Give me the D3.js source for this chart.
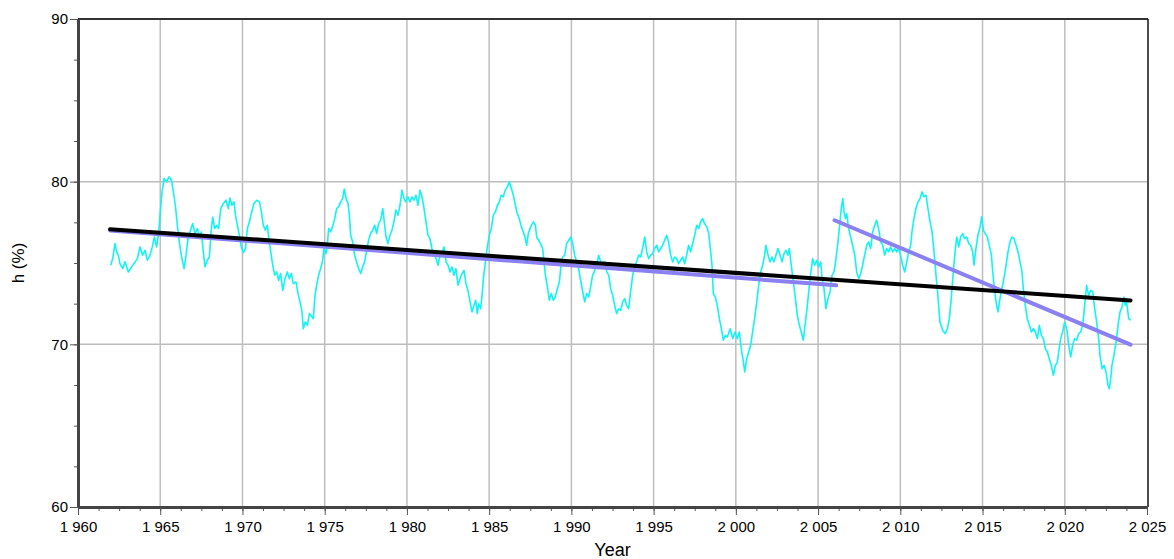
<!DOCTYPE html>
<html>
<head>
<meta charset="utf-8">
<script src="https://cdn.jsdelivr.net/npm/d3@7"></script>
<style>
  body { margin: 0; background: #fff; }
  svg { display: block; font-family: "Liberation Sans", Arial, sans-serif; }
</style>
</head>
<body>
<svg id="chart" width="1174" height="559"></svg>
<script>
// observed relative humidity (running mean), [year, h %]
const humidity = [
  [1961.99,74.86],[1962.11,75.27],[1962.25,76.19],[1962.35,75.68],[1962.45,75.48],[1962.55,74.96],
  [1962.72,74.65],[1962.86,75.07],[1963.06,74.45],[1963.26,74.76],[1963.47,75.07],[1963.61,75.27],
  [1963.77,75.99],[1963.93,75.48],[1964.07,75.78],[1964.22,75.17],[1964.38,75.48],[1964.52,75.99],
  [1964.64,76.60],[1964.78,75.99],[1964.91,76.91],[1964.99,77.94],[1965.11,79.37],[1965.23,80.19],
  [1965.39,79.99],[1965.53,80.30],[1965.68,80.09],[1965.80,79.37],[1965.92,78.55],[1966.04,77.32],
  [1966.16,76.30],[1966.28,75.48],[1966.45,74.65],[1966.57,75.48],[1966.69,76.50],[1966.81,76.91],
  [1966.97,77.42],[1967.11,76.81],[1967.26,77.12],[1967.38,76.60],[1967.50,76.91],[1967.62,75.68],
  [1967.72,74.76],[1967.86,75.17],[1967.99,75.37],[1968.09,76.91],[1968.19,77.83],[1968.31,77.12],
  [1968.43,77.32],[1968.55,77.12],[1968.68,78.35],[1968.84,78.66],[1969.00,78.86],[1969.14,78.35],
  [1969.24,79.00],[1969.36,78.55],[1969.49,78.76],[1969.57,77.94],[1969.69,77.32],[1969.81,76.71],
  [1969.93,75.99],[1970.05,75.64],[1970.18,75.89],[1970.30,77.12],[1970.42,77.53],[1970.56,78.14],
  [1970.70,78.66],[1970.86,78.86],[1971.03,78.76],[1971.15,78.14],[1971.27,77.32],[1971.39,77.01],
  [1971.51,77.32],[1971.59,76.60],[1971.72,75.68],[1971.84,74.86],[1971.96,74.25],[1972.08,74.45],
  [1972.20,73.94],[1972.32,74.35],[1972.45,73.32],[1972.59,74.04],[1972.73,74.45],[1972.85,74.04],
  [1972.97,74.35],[1973.09,73.73],[1973.26,73.83],[1973.38,73.12],[1973.50,72.61],[1973.62,71.99],
  [1973.70,70.96],[1973.82,71.37],[1973.95,71.17],[1974.07,71.89],[1974.23,71.68],[1974.31,71.58],
  [1974.41,73.01],[1974.51,73.63],[1974.63,74.25],[1974.75,74.65],[1974.88,75.17],[1974.96,75.89],
  [1975.08,75.58],[1975.16,76.09],[1975.24,77.12],[1975.36,76.91],[1975.48,77.22],[1975.61,77.73],
  [1975.73,78.35],[1975.85,78.45],[1975.97,78.76],[1976.09,78.96],[1976.19,79.54],[1976.30,78.96],
  [1976.42,78.66],[1976.50,77.94],[1976.58,76.71],[1976.70,76.30],[1976.82,75.48],[1976.94,75.07],
  [1977.07,74.65],[1977.19,74.35],[1977.31,74.76],[1977.43,75.07],[1977.55,75.78],[1977.67,76.40],
  [1977.79,76.81],[1977.92,77.01],[1978.04,77.32],[1978.16,76.81],[1978.28,77.42],[1978.40,77.63],
  [1978.53,78.35],[1978.61,77.63],[1978.73,76.60],[1978.85,76.19],[1978.97,76.71],[1979.09,77.01],
  [1979.21,77.53],[1979.33,78.25],[1979.46,77.94],[1979.58,78.55],[1979.70,79.48],[1979.82,78.96],
  [1979.94,78.76],[1980.06,79.07],[1980.19,78.76],[1980.31,79.07],[1980.43,78.86],[1980.55,79.17],
  [1980.67,78.55],[1980.80,79.48],[1980.92,79.07],[1981.04,78.35],[1981.16,77.53],[1981.28,76.71],
  [1981.40,76.50],[1981.52,75.89],[1981.65,75.58],[1981.77,75.27],[1981.89,74.86],[1982.01,75.48],
  [1982.13,75.58],[1982.25,75.99],[1982.38,75.07],[1982.50,74.86],[1982.62,74.45],[1982.74,74.76],
  [1982.86,74.25],[1982.98,74.65],[1983.11,73.63],[1983.23,74.04],[1983.35,74.35],[1983.47,74.55],
  [1983.59,73.73],[1983.71,73.32],[1983.84,72.61],[1983.96,71.99],[1984.08,72.40],[1984.18,72.71],
  [1984.28,71.89],[1984.36,72.50],[1984.48,72.19],[1984.57,73.01],[1984.65,74.04],[1984.77,75.07],
  [1984.89,75.99],[1985.01,76.71],[1985.13,77.12],[1985.25,77.94],[1985.38,78.14],[1985.50,78.55],
  [1985.62,78.76],[1985.74,79.17],[1985.86,79.07],[1985.98,79.48],[1986.11,79.68],[1986.23,79.99],
  [1986.35,79.58],[1986.47,79.17],[1986.59,78.55],[1986.71,78.04],[1986.83,77.73],[1986.96,77.22],
  [1987.18,76.60],[1987.28,76.09],[1987.38,76.81],[1987.52,77.22],[1987.69,77.53],[1987.81,77.32],
  [1987.89,76.60],[1988.01,76.40],[1988.13,76.19],[1988.25,75.89],[1988.34,75.07],[1988.42,74.25],
  [1988.54,73.53],[1988.66,72.71],[1988.78,73.12],[1988.90,72.71],[1989.02,72.91],[1989.15,73.42],
  [1989.27,73.83],[1989.35,74.65],[1989.47,75.37],[1989.59,75.48],[1989.71,76.19],[1989.84,76.40],
  [1989.96,76.60],[1990.08,76.19],[1990.20,75.48],[1990.32,75.07],[1990.44,74.65],[1990.56,73.94],
  [1990.69,73.22],[1990.81,72.61],[1990.93,73.12],[1991.05,72.91],[1991.17,73.53],[1991.29,74.25],
  [1991.42,74.55],[1991.54,74.86],[1991.66,75.48],[1991.78,75.07],[1991.90,74.96],[1992.02,75.07],
  [1992.15,74.45],[1992.27,74.25],[1992.39,73.42],[1992.51,73.01],[1992.63,72.40],[1992.75,71.89],
  [1992.87,72.19],[1993.00,72.09],[1993.12,72.61],[1993.24,72.81],[1993.36,72.40],[1993.48,72.19],
  [1993.60,73.22],[1993.73,74.25],[1993.85,74.86],[1993.97,75.07],[1994.09,75.48],[1994.21,75.37],
  [1994.33,75.89],[1994.46,76.60],[1994.58,75.68],[1994.70,75.27],[1994.82,75.48],[1994.94,75.58],
  [1995.06,75.89],[1995.19,76.09],[1995.31,75.68],[1995.43,75.89],[1995.55,76.09],[1995.67,76.40],
  [1995.79,76.71],[1995.91,76.30],[1996.04,75.48],[1996.16,75.07],[1996.28,75.37],[1996.40,75.27],
  [1996.52,74.96],[1996.64,75.17],[1996.77,75.37],[1996.89,74.96],[1997.01,75.48],[1997.13,76.09],
  [1997.25,75.68],[1997.37,76.19],[1997.50,76.71],[1997.62,77.32],[1997.74,77.12],[1997.86,77.53],
  [1997.98,77.73],[1998.10,77.42],[1998.23,77.22],[1998.35,76.81],[1998.47,75.68],[1998.55,74.86],
  [1998.63,73.12],[1998.75,72.91],[1998.87,72.40],[1999.00,71.58],[1999.12,70.96],[1999.24,70.25],
  [1999.36,70.55],[1999.48,70.45],[1999.65,70.96],[1999.81,70.35],[1999.95,70.76],[2000.09,70.35],
  [2000.21,70.76],[2000.33,69.73],[2000.46,68.91],[2000.54,68.30],[2000.66,69.12],[2000.78,69.53],
  [2000.90,69.94],[2001.02,70.76],[2001.14,71.58],[2001.27,72.61],[2001.39,73.63],[2001.51,74.45],
  [2001.63,74.86],[2001.75,75.48],[2001.83,76.09],[2001.96,75.48],[2002.08,75.07],[2002.20,75.37],
  [2002.32,75.07],[2002.44,75.48],[2002.56,75.89],[2002.69,75.48],[2002.81,75.07],[2002.93,75.58],
  [2003.05,75.78],[2003.17,75.48],[2003.25,75.89],[2003.37,74.86],[2003.50,73.83],[2003.62,72.81],
  [2003.74,71.78],[2003.86,71.17],[2003.98,70.76],[2004.10,70.25],[2004.23,71.37],[2004.35,72.40],
  [2004.47,73.63],[2004.59,74.65],[2004.67,75.27],[2004.79,74.86],[2004.92,75.17],[2005.04,74.76],
  [2005.16,75.07],[2005.24,74.04],[2005.36,73.42],[2005.48,72.19],[2005.60,72.81],[2005.73,73.22],
  [2005.85,74.25],[2005.97,74.45],[2006.09,75.27],[2006.21,76.30],[2006.33,77.53],[2006.41,78.35],
  [2006.50,78.96],[2006.58,78.14],[2006.66,77.73],[2006.74,78.04],[2006.86,77.12],[2006.98,76.60],
  [2007.10,76.09],[2007.23,75.48],[2007.35,74.45],[2007.47,74.04],[2007.59,74.35],[2007.71,74.86],
  [2007.83,75.48],[2007.96,76.09],[2008.08,76.30],[2008.20,75.89],[2008.32,76.91],[2008.44,77.32],
  [2008.56,77.63],[2008.68,77.12],[2008.81,76.30],[2008.93,76.09],[2009.05,75.48],[2009.17,75.89],
  [2009.29,75.68],[2009.41,75.99],[2009.54,75.68],[2009.66,75.89],[2009.78,75.68],[2009.90,75.89],
  [2010.02,75.48],[2010.14,74.86],[2010.27,74.45],[2010.39,75.07],[2010.51,75.68],[2010.63,76.09],
  [2010.71,76.91],[2010.83,77.73],[2010.95,78.35],[2011.08,78.76],[2011.20,78.96],[2011.32,79.37],
  [2011.44,79.07],[2011.56,79.17],[2011.68,78.35],[2011.81,77.53],[2011.93,76.91],[2012.05,75.68],
  [2012.17,74.25],[2012.25,73.42],[2012.33,72.40],[2012.41,71.37],[2012.58,70.86],[2012.72,70.66],
  [2012.86,70.96],[2012.98,71.58],[2013.10,72.81],[2013.22,74.45],[2013.35,75.89],[2013.43,76.60],
  [2013.55,75.99],[2013.67,76.60],[2013.79,76.81],[2013.91,76.50],[2014.04,76.60],[2014.16,76.19],
  [2014.28,76.09],[2014.40,75.68],[2014.48,74.86],[2014.60,75.89],[2014.72,76.71],[2014.85,77.22],
  [2014.95,77.84],[2015.05,77.01],[2015.17,76.81],[2015.29,76.60],[2015.41,76.09],[2015.54,75.48],
  [2015.62,74.45],[2015.70,73.63],[2015.82,72.61],[2015.94,71.99],[2016.06,72.81],[2016.18,73.42],
  [2016.30,74.04],[2016.43,74.86],[2016.55,75.68],[2016.67,76.30],[2016.79,76.60],[2016.91,76.50],
  [2017.04,76.09],[2017.16,75.68],[2017.28,75.07],[2017.40,74.45],[2017.48,73.42],[2017.60,72.40],
  [2017.72,71.58],[2017.85,71.17],[2017.97,70.76],[2018.09,70.96],[2018.21,70.76],[2018.33,70.35],
  [2018.45,71.17],[2018.58,70.55],[2018.70,70.35],[2018.82,69.73],[2018.94,69.53],[2019.06,69.12],
  [2019.18,68.71],[2019.31,68.09],[2019.43,68.71],[2019.55,68.91],[2019.63,69.53],[2019.75,70.35],
  [2019.87,70.76],[2019.99,71.37],[2020.12,70.96],[2020.24,69.94],[2020.36,69.22],[2020.48,69.94],
  [2020.60,70.35],[2020.72,70.25],[2020.85,70.66],[2020.97,70.76],[2021.09,71.17],[2021.21,72.40],
  [2021.33,73.63],[2021.45,73.01],[2021.58,73.32],[2021.70,73.22],[2021.82,72.19],[2021.94,71.37],
  [2022.06,70.35],[2022.14,69.32],[2022.27,68.50],[2022.39,68.71],[2022.51,68.30],[2022.63,67.48],
  [2022.71,67.27],[2022.79,67.89],[2022.87,68.71],[2022.99,69.32],[2023.12,70.14],[2023.24,71.17],
  [2023.36,71.99],[2023.48,72.30],[2023.60,72.91],[2023.68,72.40],[2023.76,72.61],[2023.89,71.58],
  [2024.01,71.48]
];

// linear trends, [year, h %]
const trendAll = [[1961.95, 77.07], [2024.0, 72.70]];
const trendEarly = [[1961.95, 77.00], [2006.1, 73.63]];
const trendLate = [[2006.0, 77.63], [2024.0, 69.98]];

const xMajor = [1960, 1965, 1970, 1975, 1980, 1985, 1990, 1995, 2000, 2005, 2010, 2015, 2020, 2025];
const yMajor = [60, 70, 80, 90];

const width = 1174, height = 559;
const margin = { top: 19, right: 26, bottom: 52, left: 78 };
const innerW = 1147 - margin.left;
const innerH = 507 - margin.top;

const svg = d3.select("#chart");
const g = svg.append("g").attr("transform", "translate(" + margin.left + "," + margin.top + ")");

const x = d3.scaleLinear().domain([1960, 2025]).range([0, innerW]);
const y = d3.scaleLinear().domain([60, 90]).range([innerH, 0]);

const fmt = d3.formatLocale({ decimal: ".", thousands: " ", grouping: [3], currency: ["", ""] }).format(",");

// grid
g.append("g").selectAll("line").data(xMajor.slice(1, -1)).enter().append("line")
  .attr("x1", d => x(d)).attr("x2", d => x(d))
  .attr("y1", 0).attr("y2", innerH)
  .attr("stroke", "#bdbdbd").attr("stroke-width", 1.5);
g.append("g").selectAll("line").data(yMajor.slice(1, -1)).enter().append("line")
  .attr("x1", 0).attr("x2", innerW)
  .attr("y1", d => y(d)).attr("y2", d => y(d))
  .attr("stroke", "#bdbdbd").attr("stroke-width", 1.5);

// frame top / right
g.append("line").attr("x1", 0).attr("x2", innerW + 1).attr("y1", 0).attr("y2", 0)
  .attr("stroke", "#333").attr("stroke-width", 2);
g.append("line").attr("x1", innerW + 1).attr("x2", innerW + 1).attr("y1", 0).attr("y2", innerH)
  .attr("stroke", "#111").attr("stroke-width", 1.5);

// data line
const line = d3.line().x(d => x(d[0])).y(d => y(d[1]));

g.append("path").datum(humidity)
  .attr("fill", "none").attr("stroke", "#12f4f4").attr("stroke-width", 1.6)
  .attr("stroke-linejoin", "round")
  .attr("d", line);

[trendEarly, trendLate].forEach(t => {
  g.append("path").datum(t)
    .attr("fill", "none").attr("stroke", "#8a80f2").attr("stroke-width", 4)
    .attr("stroke-linecap", "round").attr("d", line);
});
g.append("path").datum(trendAll)
  .attr("fill", "none").attr("stroke", "#000").attr("stroke-width", 4)
  .attr("stroke-linecap", "round").attr("d", line);

// minor ticks
const xMinor = d3.range(1960, 2025.01, 1.25);
const yMinor = d3.range(60, 90.01, 2.5);
g.append("g").attr("transform", "translate(0," + innerH + ")")
  .call(d3.axisBottom(x).tickValues(xMinor).tickSize(4).tickFormat(""))
  .call(a => a.select(".domain").remove())
  .selectAll("line").attr("stroke", "#555");
g.append("g")
  .call(d3.axisLeft(y).tickValues(yMinor).tickSize(4).tickFormat(""))
  .call(a => a.select(".domain").remove())
  .selectAll("line").attr("stroke", "#555");

// major axes
const xAxis = g.append("g").attr("transform", "translate(0," + innerH + ")")
  .call(d3.axisBottom(x).tickValues(xMajor).tickSize(8).tickPadding(6).tickFormat(fmt).tickSizeOuter(0));
const yAxis = g.append("g")
  .call(d3.axisLeft(y).tickValues(yMajor).tickSize(8).tickPadding(2).tickFormat(d3.format("d")).tickSizeOuter(0));

[xAxis, yAxis].forEach(a => {
  a.select(".domain").attr("stroke", "#444").attr("stroke-width", 3);
  a.selectAll(".tick line").attr("stroke", "#555");
  a.selectAll(".tick text").attr("fill", "#000").style("font-size", "15px")
    .style("font-family", "'Liberation Sans', Arial, sans-serif");
});

// axis titles
svg.append("text")
  .attr("x", margin.left + innerW / 2).attr("y", 556)
  .attr("text-anchor", "middle").style("font-size", "18px").text("Year");
svg.append("text")
  .attr("transform", "translate(24," + (margin.top + innerH / 2) + ") rotate(-90)")
  .attr("text-anchor", "middle").style("font-size", "17px").text("h (%)");
</script>
</body>
</html>
